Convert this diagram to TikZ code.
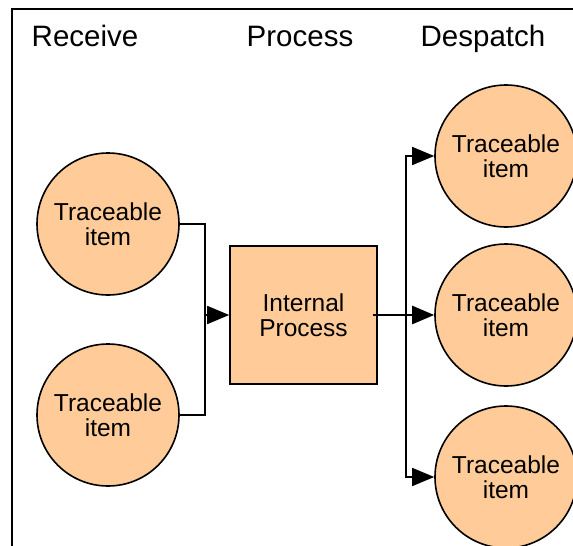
\documentclass[tikz,border=0pt]{standalone}
\usepackage{fontspec}
\setmainfont{Liberation Sans}
\usetikzlibrary{arrows.meta}
\definecolor{peach}{RGB}{255,204,153}
\tikzset{
  item/.style={circle,draw=black,line width=1.6pt,fill=peach,minimum size=142pt,inner sep=0pt,align=center,font=\fontsize{24.5}{25.5}\selectfont},
  procbox/.style={rectangle,draw=black,line width=1.6pt,fill=peach,minimum width=147pt,minimum height=138pt,inner sep=0pt,align=center,font=\fontsize{24.5}{25.5}\selectfont},
  head/.style={anchor=base,font=\fontsize{29.5}{31}\selectfont},
  conn/.style={line width=1.6pt},
  arr/.style={line width=1.6pt,-{Triangle[length=22pt,width=18pt]}}
}
\begin{document}
\begin{tikzpicture}[x=1pt,y=-1pt]
\useasboundingbox (0,0) rectangle (573,546);
\clip (0,0) rectangle (573,546);
\draw[line width=2pt] (12,9) rectangle (600,600);
\node[head] (h1) at (85,46) {Receive};
\node[head] (h2) at (300,46) {Process};
\node[head] (h3) at (483,46) {Despatch};
\node[item] (r1) at (108,224) {Traceable\\item};
\node[item] (r2) at (108,415) {Traceable\\item};
\node[procbox] (p) at (303.5,315) {Internal\\Process};
\node[item] (d1) at (506,156) {Traceable\\item};
\node[item] (d2) at (506,315) {Traceable\\item};
\node[item] (d3) at (506,477) {Traceable\\item};
\coordinate (jl) at (205,315);
\coordinate (jr) at (406,315);
\draw[conn] (r1.east) -| (jl);
\draw[conn] (r2.east) -| (jl);
\draw[arr] (jl) -- (p.west);
\draw[arr,line width=2.6pt] ([xshift=-5pt]p.east) -- (d2.west);
\draw[arr] (jr) |- (d1.west);
\draw[arr] (jr) |- (d3.west);
\end{tikzpicture}
\end{document}
